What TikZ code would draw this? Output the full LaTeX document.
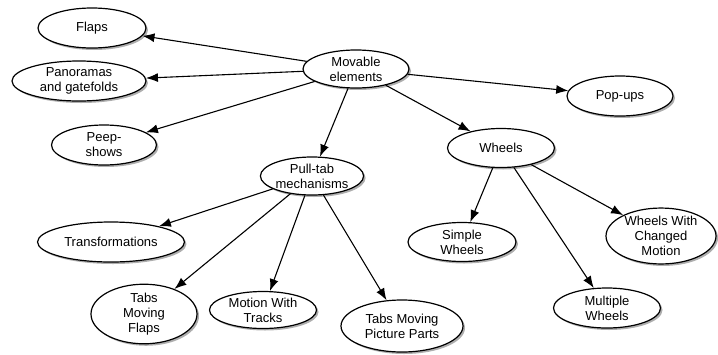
\documentclass[tikz,border=0pt]{standalone}
\usepackage{fontspec}
\setmainfont{Liberation Sans}
\usetikzlibrary{shapes.geometric,arrows.meta,shadows}
\begin{document}
\begin{tikzpicture}[x=1pt,y=-1pt,
  concept/.style={ellipse,draw=black,line width=1.2pt,fill=white,inner sep=0pt,
    align=center,font=\fontsize{13}{15}\selectfont,
    drop shadow={shadow xshift=2pt,shadow yshift=-2pt,fill=black!45,opacity=0.7}},
  link/.style={line width=1.1pt,-{Latex[length=12pt,width=9pt]}}]
\useasboundingbox (0,0) rectangle (718,354);
\node[concept,minimum width=106pt,minimum height=38pt] (move) at (356,69) {Movable\\elements};
\node[concept,minimum width=108pt,minimum height=40pt] (flaps) at (92,28) {Flaps};
\node[concept,minimum width=134pt,minimum height=40pt] (pano) at (79,81) {Panoramas\\and gatefolds};
\node[concept,minimum width=105pt,minimum height=40pt] (peep) at (104,145) {Peep-\\shows};
\node[concept,minimum width=106pt,minimum height=40pt] (pop) at (620,96) {Pop-ups};
\node[concept,minimum width=107pt,minimum height=39pt] (wheels) at (501,148) {Wheels};
\node[concept,minimum width=100pt,minimum height=38pt] (pull) at (312,176) {Pull-tab\\mechanisms};
\node[concept,minimum width=147pt,minimum height=40pt] (trans) at (111,242) {Transformations};
\node[concept,minimum width=106pt,minimum height=52pt] (tmf) at (144,314) {Tabs\\Moving\\Flaps};
\node[concept,minimum width=107pt,minimum height=37pt] (mwt) at (263,310) {Motion With\\Tracks};
\node[concept,minimum width=122pt,minimum height=52pt] (tmp) at (402,326) {Tabs Moving\\Picture Parts};
\node[concept,minimum width=108pt,minimum height=39pt] (simple) at (462,242) {Simple\\Wheels};
\node[concept,minimum width=107pt,minimum height=40pt] (multi) at (607,308) {Multiple\\Wheels};
\node[concept,minimum width=110pt,minimum height=52pt] (changed) at (661,236) {Wheels With\\Changed\\Motion};
\draw[link] (move) -- (flaps);
\draw[link] (move) -- (pano);
\draw[link] (move) -- (peep);
\draw[link] (move) -- (pull);
\draw[link] (move) -- (pop);
\draw[link] (move) -- (wheels);
\draw[link] (pull) -- (trans);
\draw[link] (pull) -- (tmf);
\draw[link] (pull) -- (mwt);
\draw[link] (pull) -- (tmp);
\draw[link] (wheels) -- (simple);
\draw[link] (wheels) -- (multi);
\draw[link] (wheels) -- (changed);
\end{tikzpicture}
\end{document}
